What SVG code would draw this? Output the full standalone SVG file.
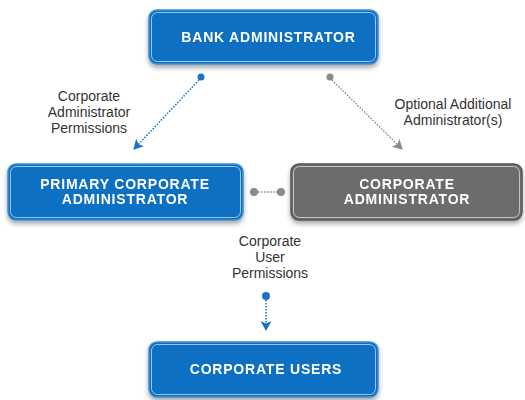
<svg xmlns="http://www.w3.org/2000/svg" width="525" height="400" viewBox="0 0 525 400">
  <defs>
    <filter id="shadow" x="-10%" y="-20%" width="120%" height="160%">
      <feGaussianBlur in="SourceAlpha" stdDeviation="2.5"/>
      <feOffset dx="0" dy="3" result="b"/>
      <feComponentTransfer><feFuncA type="linear" slope="0.35"/></feComponentTransfer>
      <feMerge><feMergeNode/><feMergeNode in="SourceGraphic"/></feMerge>
    </filter>
    <marker id="arrowBlue" markerWidth="12" markerHeight="12" refX="9" refY="6" orient="auto" markerUnits="userSpaceOnUse">
      <path d="M0,0.5 L10,6 L0,11.5 L2.5,6 Z" fill="#1a72c4"/>
    </marker>
    <marker id="arrowGray" markerWidth="12" markerHeight="12" refX="9" refY="6" orient="auto" markerUnits="userSpaceOnUse">
      <path d="M0,0.5 L10,6 L0,11.5 L2.5,6 Z" fill="#8a8a8a"/>
    </marker>
  </defs>
  <style>
    .blue .outer { fill: #0b6fc3; stroke: #3d8ed6; stroke-width: 1.5; }
    .blue .inner { fill: none; stroke: #9cc7ee; stroke-width: 1; }
    .gray .outer { fill: #6c6c6c; stroke: #555555; stroke-width: 1.5; }
    .gray .inner { fill: none; stroke: #c4c4c4; stroke-width: 1; }
    .title { font-family: "Liberation Sans", Arial, sans-serif; font-weight: bold; font-size: 14px; letter-spacing: 0.8px; fill: #ffffff; text-anchor: middle; }
    .label { font-family: "Liberation Sans", Arial, sans-serif; font-size: 14px; fill: #333333; text-anchor: middle; }
    .dotBlue { stroke: #1a72c4; stroke-width: 1.5; stroke-dasharray: 1.5 1.5; fill: none; }
    .dotGray { stroke: #8a8a8a; stroke-width: 1.5; stroke-dasharray: 1.5 1.5; fill: none; }
  </style>

  <rect width="525" height="400" fill="#ffffff"/>

  <g id="connectors">
    <!-- bank admin to primary corporate admin -->
    <circle cx="201" cy="77" r="3.5" fill="#1a72c4"/>
    <line class="dotBlue" x1="199" y1="80" x2="134" y2="149" marker-end="url(#arrowBlue)"/>
    <!-- bank admin to corporate admin (optional) -->
    <circle cx="330" cy="77" r="3.5" fill="#8a8a8a"/>
    <line class="dotGray" x1="332" y1="80" x2="402" y2="149" marker-end="url(#arrowGray)"/>
    <!-- link between the two administrators -->
    <circle cx="254" cy="192" r="4" fill="#8a8a8a"/>
    <circle cx="281" cy="192" r="4" fill="#8a8a8a"/>
    <line class="dotGray" x1="258" y1="192" x2="277" y2="192"/>
    <!-- primary admin to corporate users -->
    <circle cx="266" cy="296" r="4" fill="#1a72c4"/>
    <line class="dotBlue" x1="266" y1="300" x2="266" y2="330" marker-end="url(#arrowBlue)"/>
  </g>

  <g id="bank-administrator" class="blue" filter="url(#shadow)">
    <rect class="outer" x="149" y="10" width="229" height="54" rx="8"/>
    <rect class="inner" x="151.5" y="12.5" width="224" height="49" rx="6"/>
    <text class="title" x="268.5" y="42">BANK ADMINISTRATOR</text>
  </g>

  <g id="primary-corporate-administrator" class="blue" filter="url(#shadow)">
    <rect class="outer" x="8" y="164" width="235" height="56" rx="8"/>
    <rect class="inner" x="10.5" y="166.5" width="230" height="51" rx="6"/>
    <text class="title" x="125" y="189">PRIMARY CORPORATE</text>
    <text class="title" x="125" y="204">ADMINISTRATOR</text>
  </g>

  <g id="corporate-administrator" class="gray" filter="url(#shadow)">
    <rect class="outer" x="291" y="164" width="231" height="56" rx="8"/>
    <rect class="inner" x="293.5" y="166.5" width="226" height="51" rx="6"/>
    <text class="title" x="407" y="189">CORPORATE</text>
    <text class="title" x="407" y="204">ADMINISTRATOR</text>
  </g>

  <g id="corporate-users" class="blue" filter="url(#shadow)">
    <rect class="outer" x="149" y="342" width="229" height="55" rx="8"/>
    <rect class="inner" x="151.5" y="344.5" width="224" height="50" rx="6"/>
    <text class="title" x="266" y="374">CORPORATE USERS</text>
  </g>

  <g id="labels">
    <text class="label" x="89" y="101">Corporate</text>
    <text class="label" x="89" y="117">Administrator</text>
    <text class="label" x="89" y="133">Permissions</text>
    <text class="label" x="453" y="109">Optional Additional</text>
    <text class="label" x="453" y="125">Administrator(s)</text>
    <text class="label" x="270" y="246">Corporate</text>
    <text class="label" x="270" y="262">User</text>
    <text class="label" x="270" y="278">Permissions</text>
  </g>
</svg>
